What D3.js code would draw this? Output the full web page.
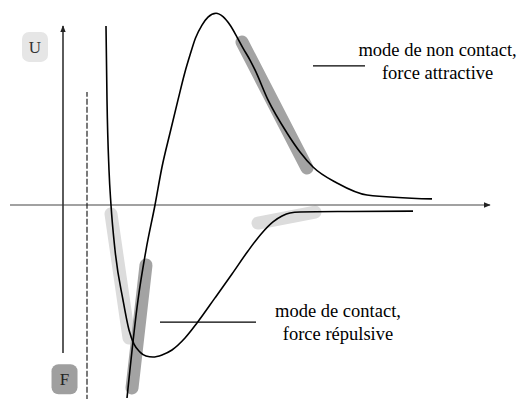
<!DOCTYPE html>
<html>
<head>
<meta charset="utf-8">
<script src="https://cdn.jsdelivr.net/npm/d3@7/dist/d3.min.js"></script>
<style>
  html, body { margin: 0; padding: 0; background: #fff; }
  svg { display: block; }
</style>
</head>
<body>
<svg id="chart" width="522" height="399"></svg>
<script>
// Potential energy U(r): steep rise through zero, rounded hump, tail towards zero
const potentialR = [2.925, 3.2, 3.4, 3.625, 3.8, 4.0, 4.2, 4.375, 4.5, 4.638, 4.8, 4.95, 5.15, 5.325, 5.5, 5.675, 5.825, 6.0, 6.125, 6.45, 6.925, 7.25, 7.575, 8.175, 8.925, 10.55];
const potentialU = [-1.016, -0.5, -0.237, 0, 0.2, 0.379, 0.553, 0.7, 0.789, 0.879, 0.947, 0.989, 1.009, 0.991, 0.947, 0.884, 0.826, 0.763, 0.711, 0.553, 0.379, 0.279, 0.2, 0.116, 0.053, 0.032];

// Interaction force F(r): repulsive wall, attractive well, flat tail
const forceR = [2.4, 2.425, 2.475, 2.525, 2.625, 2.825, 2.975, 3.1, 3.25, 3.4, 3.575, 3.8, 4.05, 4.375, 4.675, 5.125, 5.55, 5.95, 6.3, 6.575, 6.8, 7.0, 7.25, 8.5, 10.075];
const forceF = [0.942, 0.553, 0.184, 0, -0.237, -0.5, -0.658, -0.732, -0.774, -0.795, -0.8, -0.789, -0.763, -0.7, -0.621, -0.489, -0.363, -0.242, -0.147, -0.089, -0.058, -0.042, -0.037, -0.034, -0.032];

// Highlighted operating ranges: [r0, v0, r1, v1]
const lightBands = [
  [2.525, -0.047, 2.975, -0.70],   // contact, force side
  [6.2, -0.095, 7.625, -0.037]     // non contact, force side
];
const darkBands = [
  [3.4, -0.316, 3.05, -0.963],     // contact, potential side
  [5.8, 0.858, 7.425, 0.195]       // non contact, potential side
];

// Axis and reference lines
const rAxis = [0, 12];            // horizontal axis extent
const vAxisR = 1.325;             // vertical axis position
const vAxisSpan = [-0.779, 0.942];
const wallR = 1.925;              // dashed contact line
const wallSpan = [-1.03, 0.595];

// Annotations
const notes = [
  { lines: ["mode de non contact,", "force attractive"], anchor: [10.69, 0.785], lead: [7.575, 8.875, 0.732] },
  { lines: ["mode de contact,", "force répulsive"], anchor: [8.2, -0.589], lead: [3.75, 6.15, -0.616] }
];
const boxLabels = [
  { text: "U", r: 0.625, v: 0.832, fill: "#e6e6e6", color: "#333" },
  { text: "F", r: 1.363, v: -0.917, fill: "#9f9f9f", color: "#222" }
];

const FONT = "'Liberation Serif', 'Times New Roman', 'DejaVu Serif', serif";

const svg = d3.select("#chart");
const x = d3.scaleLinear().domain([0, 12]).range([10, 490]);
const y = d3.scaleLinear().domain([-1, 1]).range([395, 15]);

const line = d3.line()
  .x(d => x(d[0]))
  .y(d => y(d[1]))
  .curve(d3.curveMonotoneX);

// arrow marker
const defs = svg.append("defs");
defs.append("marker")
  .attr("id", "arrow")
  .attr("viewBox", "0 0 10 10")
  .attr("refX", 9).attr("refY", 5)
  .attr("markerWidth", 7).attr("markerHeight", 7)
  .attr("markerUnits", "userSpaceOnUse")
  .attr("orient", "auto")
  .append("path")
  .attr("d", "M0,1 L10,5 L0,9 Z")
  .attr("fill", "#222");

// highlight bands (under the curves)
svg.append("g").selectAll("line")
  .data(lightBands).join("line")
  .attr("x1", d => x(d[0])).attr("y1", d => y(d[1]))
  .attr("x2", d => x(d[2])).attr("y2", d => y(d[3]))
  .attr("stroke", "#dcdcdc").attr("stroke-width", 13)
  .attr("stroke-linecap", "round");

svg.append("g").selectAll("line")
  .data(darkBands).join("line")
  .attr("x1", d => x(d[0])).attr("y1", d => y(d[1]))
  .attr("x2", d => x(d[2])).attr("y2", d => y(d[3]))
  .attr("stroke", "#a3a3a3").attr("stroke-width", 13)
  .attr("stroke-linecap", "round");

// horizontal axis
svg.append("line")
  .attr("x1", x(rAxis[0])).attr("y1", y(0))
  .attr("x2", x(rAxis[1])).attr("y2", y(0))
  .attr("stroke", "#444").attr("stroke-width", 1.1)
  .attr("marker-end", "url(#arrow)");

// vertical axis
svg.append("line")
  .attr("x1", x(vAxisR)).attr("y1", y(vAxisSpan[0]))
  .attr("x2", x(vAxisR)).attr("y2", y(vAxisSpan[1]))
  .attr("stroke", "#333").attr("stroke-width", 1.6)
  .attr("marker-end", "url(#arrow)");

// dashed wall
svg.append("line")
  .attr("x1", x(wallR)).attr("y1", y(wallSpan[0]))
  .attr("x2", x(wallR)).attr("y2", y(wallSpan[1]))
  .attr("stroke", "#222").attr("stroke-width", 1.2)
  .attr("stroke-dasharray", "6,2");

// curves
svg.append("path")
  .datum(d3.zip(forceR, forceF))
  .attr("d", line)
  .attr("fill", "none").attr("stroke", "#000").attr("stroke-width", 1.6);

svg.append("path")
  .datum(d3.zip(potentialR, potentialU))
  .attr("d", line)
  .attr("fill", "none").attr("stroke", "#000").attr("stroke-width", 1.6);

// annotations
const ng = svg.append("g").selectAll("g").data(notes).join("g");
ng.append("line")
  .attr("x1", d => x(d.lead[0])).attr("x2", d => x(d.lead[1]))
  .attr("y1", d => y(d.lead[2])).attr("y2", d => y(d.lead[2]))
  .attr("stroke", "#000").attr("stroke-width", 1.2);
ng.each(function(d) {
  const t = d3.select(this).append("text")
    .attr("text-anchor", "middle")
    .attr("font-family", FONT)
    .attr("font-size", 18.5)
    .attr("fill", "#000");
  d.lines.forEach((s, i) => {
    t.append("tspan")
      .attr("x", x(d.anchor[0]))
      .attr("y", y(d.anchor[1]) + i * 23)
      .text(s);
  });
});

// U / F tags
const bg = svg.append("g").selectAll("g").data(boxLabels).join("g")
  .attr("transform", d => `translate(${x(d.r)},${y(d.v)})`);
bg.append("rect")
  .attr("x", -13).attr("y", -15).attr("width", 26).attr("height", 30)
  .attr("rx", 7).attr("fill", d => d.fill);
bg.append("text")
  .attr("text-anchor", "middle").attr("dy", "0.35em")
  .attr("font-family", FONT)
  .attr("font-size", 17)
  .attr("fill", d => d.color)
  .text(d => d.text);
</script>
</body>
</html>
